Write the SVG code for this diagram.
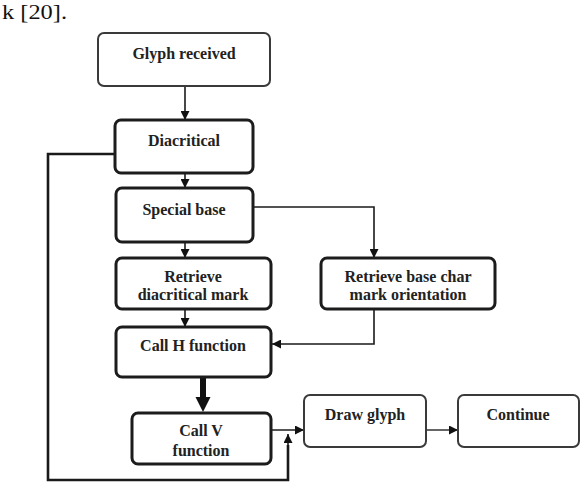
<svg xmlns="http://www.w3.org/2000/svg" width="588" height="494" viewBox="0 0 588 494">
<style>
  .box { fill: #fff; stroke: #1c1c1c; stroke-width: 3; }
  .thin { fill: #fff; stroke: #3a3a3a; stroke-width: 2; }
  .lbl { font-family: "Liberation Serif", "Times New Roman", serif; font-weight: bold; font-size: 16px; fill: #222; text-anchor: middle; }
  .conn { fill: none; stroke: #1a1a1a; stroke-width: 1.6; }
  .loop { fill: none; stroke: #1a1a1a; stroke-width: 2.6; }
  .gray { fill: none; stroke: #555; stroke-width: 1.8; }
</style>
<defs>
  <marker id="arr" viewBox="0 0 10 10" refX="10" refY="5" markerWidth="9" markerHeight="9" markerUnits="userSpaceOnUse" orient="auto">
    <path d="M0,0 L10,5 L0,10 z" fill="#111"/>
  </marker>
  <marker id="big" viewBox="0 0 10 10" refX="0" refY="5" markerWidth="15" markerHeight="16" markerUnits="userSpaceOnUse" orient="auto">
    <path d="M0,0 L10,5 L0,10 z" fill="#111"/>
  </marker>
</defs>
<rect width="588" height="494" fill="#fff"/>
<text x="2" y="19" font-family="Liberation Serif, Times New Roman, serif" font-size="20" textLength="65" lengthAdjust="spacingAndGlyphs" fill="#111">k [20].</text>

<g id="connectors">
  <path class="conn" d="M185,86 V120" marker-end="url(#arr)"/>
  <path class="conn" d="M185,173 V188" marker-end="url(#arr)"/>
  <path class="conn" d="M185,242 V258" marker-end="url(#arr)"/>
  <path class="conn" d="M185,309 V327" marker-end="url(#arr)"/>
  <path class="conn" d="M253,207 H374 V258" marker-end="url(#arr)"/>
  <path class="conn" d="M374,309 V344 H272" marker-end="url(#arr)"/>
  <path fill="none" stroke="#111" stroke-width="6" d="M203,378 V397" marker-end="url(#big)"/>
  <path class="gray" d="M271,430 H304" marker-end="url(#arr)"/>
  <path class="loop" d="M115,154 H48 V480 H288 V445"/>
  <path class="conn" d="M288,446 V434" marker-end="url(#arr)"/>
  <path class="gray" d="M426,430 H458" marker-end="url(#arr)"/>
</g>

<g id="glyph-received">
  <rect class="thin" x="98" y="33" width="172" height="53" rx="6"/>
  <text class="lbl" x="184" y="59">Glyph received</text>
</g>
<g id="diacritical">
  <rect class="box" x="115" y="120" width="138" height="53" rx="6"/>
  <text class="lbl" x="184" y="146">Diacritical</text>
</g>
<g id="special-base">
  <rect class="box" x="116" y="188" width="137" height="54" rx="6"/>
  <text class="lbl" x="184" y="215">Special base</text>
</g>
<g id="retrieve-diacritical">
  <rect class="box" x="116" y="258" width="155" height="51" rx="6"/>
  <text class="lbl" x="193" y="282">Retrieve</text>
  <text class="lbl" x="193" y="300">diacritical mark</text>
</g>
<g id="retrieve-base">
  <rect class="box" x="321" y="258" width="174" height="51" rx="6"/>
  <text class="lbl" x="408" y="282">Retrieve base char</text>
  <text class="lbl" x="408" y="300">mark orientation</text>
</g>
<g id="call-h">
  <rect class="box" x="116" y="327" width="155" height="50" rx="6"/>
  <text class="lbl" x="193" y="351">Call H function</text>
</g>
<g id="call-v">
  <rect class="box" x="132" y="413" width="139" height="51" rx="6"/>
  <text class="lbl" x="201" y="436">Call V</text>
  <text class="lbl" x="201" y="456">function</text>
</g>
<g id="draw-glyph">
  <rect class="thin" x="304" y="395" width="122" height="52" rx="6"/>
  <text class="lbl" x="365" y="420">Draw glyph</text>
</g>
<g id="continue">
  <rect class="thin" x="458" y="395" width="121" height="52" rx="6"/>
  <text class="lbl" x="518" y="420">Continue</text>
</g>
</svg>
